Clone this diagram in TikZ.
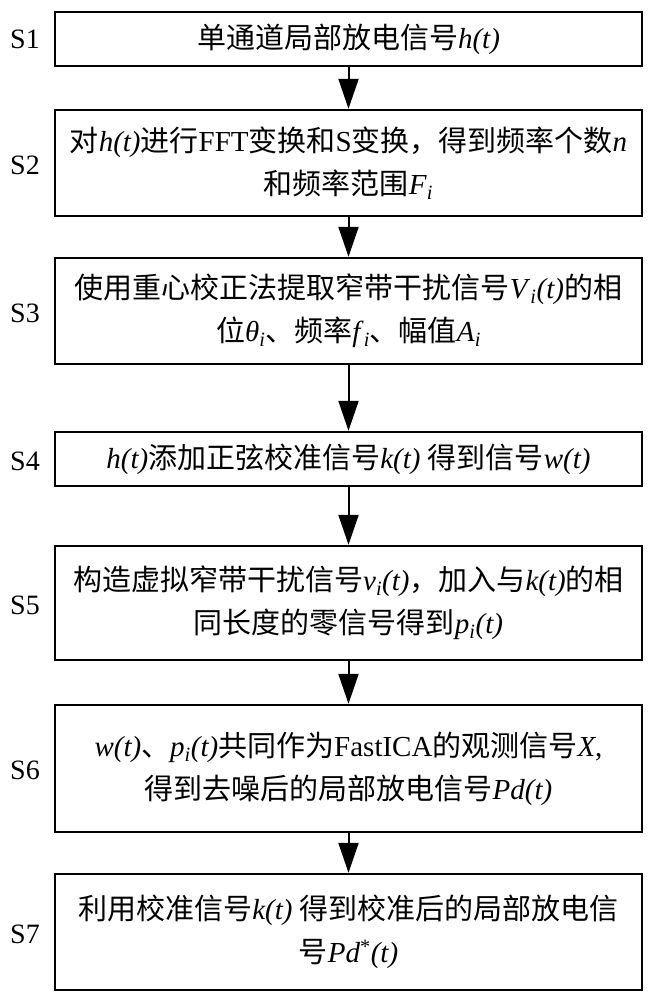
\documentclass[tikz,border=0pt]{standalone}
\usepackage{fontspec}
\setmainfont{Liberation Serif}
\newfontfamily\cjk{Noto Sans CJK SC}
\usetikzlibrary{arrows.meta}
\newcommand\zh[1]{{\cjk #1}}
\newcommand\vi[1]{\textit{#1}}
\newcommand\sbi{\textsubscript{\vi{i}}}
\begin{document}
\begin{tikzpicture}[x=1pt,y=1pt,
  stepbox/.style={draw, line width=2.4pt, minimum width=587pt, inner sep=0pt, align=center, font=\fontsize{29}{43}\selectfont},
  lbl/.style={font=\fontsize{28}{30}\selectfont},
  arr/.style={line width=2pt, -{Triangle[length=30pt,width=20pt]}}]
\fill[white] (0,0) rectangle (654,-1000);
\useasboundingbox (0,0) rectangle (654,-1000);

\node[stepbox, minimum height=54pt] (b1) at (348.5,-39) {\zh{单通道局部放电信号}\vi{h(t)}};
\node[stepbox, minimum height=106pt] (b2) at (348.5,-163) {\zh{对}\vi{h(t)}\zh{进行}FFT\zh{变换和}S\zh{变换，得到频率个数}\vi{n}\\\zh{和频率范围}\vi{F}\sbi};
\node[stepbox, minimum height=106pt] (b3) at (348.5,-311) {\zh{使用重心校正法提取窄带干扰信号}\vi{V}\sbi\vi{(t)}\zh{的相}\\\zh{位}\vi{θ}\sbi\zh{、频率}\vi{f}\sbi\zh{、幅值}\vi{A}\sbi};
\node[stepbox, minimum height=54pt] (b4) at (348.5,-459) {\vi{h(t)}\zh{添加正弦校准信号}\vi{k(t)} \zh{得到信号}\vi{w(t)}};
\node[stepbox, minimum height=114pt] (b5) at (348.5,-603) {\zh{构造虚拟窄带干扰信号}\vi{v}\sbi\vi{(t)}\zh{，加入与}\vi{k(t)}\zh{的相}\\\zh{同长度的零信号得到}\vi{p}\sbi\vi{(t)}};
\node[stepbox, minimum height=127pt] (b6) at (348.5,-768.5) {\vi{w(t)}\zh{、}\vi{p}\sbi\vi{(t)}\zh{共同作为}FastICA\zh{的观测信号}\vi{X},\\\zh{得到去噪后的局部放电信号}\vi{Pd(t)}};
\node[stepbox, minimum height=116pt] (b7) at (348.5,-932) {\zh{利用校准信号}\vi{k(t)} \zh{得到校准后的局部放电信}\\\zh{号}\vi{Pd}\textsuperscript{*}\vi{(t)}};

\node[lbl] (s1) at (25,-39) {S1};
\node[lbl] (s2) at (25,-165) {S2};
\node[lbl] (s3) at (25,-313) {S3};
\node[lbl] (s4) at (25,-461) {S4};
\node[lbl] (s5) at (25,-605) {S5};
\node[lbl] (s6) at (25,-770) {S6};
\node[lbl] (s7) at (25,-934) {S7};

\draw[arr] (b1.south) -- (b2.north);
\draw[arr] (b2.south) -- (b3.north);
\draw[arr] (b3.south) -- (b4.north);
\draw[arr] (b4.south) -- (b5.north);
\draw[arr] (b5.south) -- (b6.north);
\draw[arr] (b6.south) -- (b7.north);
\end{tikzpicture}
\end{document}
